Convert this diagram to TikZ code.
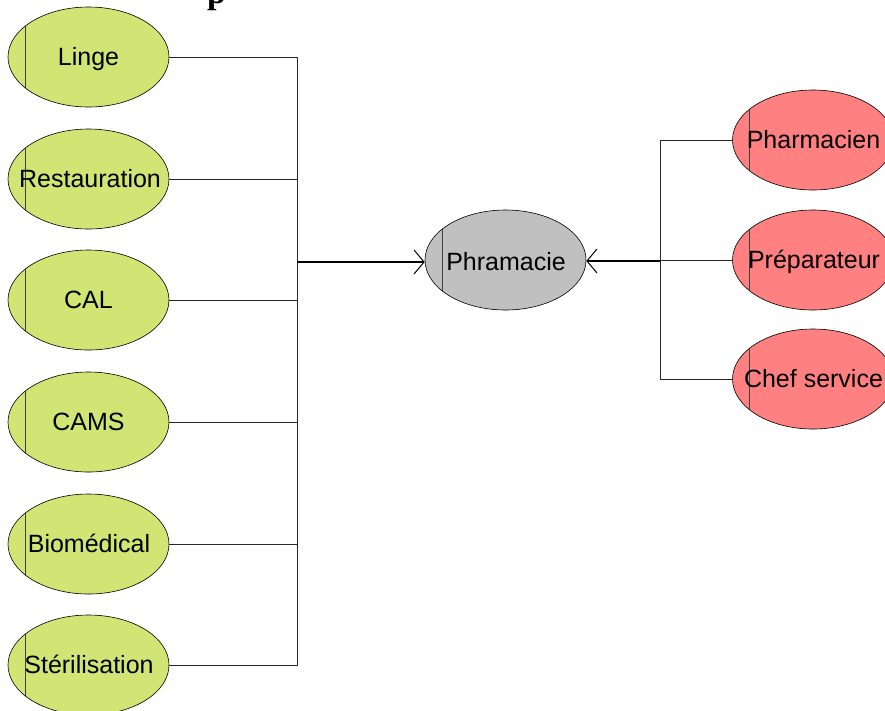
\documentclass[tikz,border=0pt]{standalone}
\usepackage{fontspec}
\setmainfont{Liberation Sans}
\newfontfamily\titlefont{Liberation Serif}
\usetikzlibrary{shapes.geometric,arrows.meta}
\definecolor{greenfill}{RGB}{210,228,115}
\definecolor{redfill}{RGB}{255,128,128}
\definecolor{greyfill}{RGB}{192,192,192}
\begin{document}
\begin{tikzpicture}[x=1pt,y=-1pt,
  oval/.style={ellipse, draw=black, line width=0.6pt, minimum width=161pt, minimum height=100pt, inner sep=0pt,
    path picture={\draw[black!75, line width=0.9pt] ([xshift=17pt]path picture bounding box.north west) -- ([xshift=17pt]path picture bounding box.south west);}},
  gov/.style={oval, fill=greenfill},
  rov/.style={oval, fill=redfill},
  pov/.style={oval, fill=greyfill},
  lbl/.style={anchor=base, inner sep=0pt, font=\fontsize{25}{30}\selectfont},
  wire/.style={line width=0.7pt, black!85},
  arr/.style={line width=1.1pt, -{Straight Barb[length=10pt,width=24pt,line width=1pt]}}
]
\useasboundingbox (0,0) rectangle (885,710);
% partial title
\node[anchor=base west, inner sep=0pt, font=\titlefont\bfseries\fontsize{34}{40}\selectfont] (title) at (207,3) {p};

% left nodes
\node[gov] (linge) at (88.5,57) {};
\node[lbl] (tlinge) at (88.5,65.5) {Linge};
\node[gov] (resto) at (88.5,179) {};
\node[lbl] (tresto) at (90,187.5) {Restauration};
\node[gov] (cal) at (88.5,300) {};
\node[lbl] (tcal) at (88.5,308.5) {CAL};
\node[gov] (cams) at (88.5,422) {};
\node[lbl] (tcams) at (88.5,430.5) {CAMS};
\node[gov] (bio) at (88.5,544) {};
\node[lbl] (tbio) at (89,552.5) {Biomédical};
\node[gov] (steri) at (88.5,665) {};
\node[lbl] (tsteri) at (89,673.5) {Stérilisation};

% center
\node[pov] (phr) at (505.5,260) {};
\node[lbl] (tphr) at (506,270) {Phramacie};

% right nodes
\node[rov] (pharm) at (813,140) {};
\node[lbl] (tpharm) at (813.5,148.5) {Pharmacien};
\node[rov] (prep) at (813,260) {};
\node[lbl] (tprep) at (814,268.5) {Préparateur};
\node[rov] (chef) at (813,379) {};
\node[lbl] (tchef) at (813.5,387.5) {Chef service};

% buses
\coordinate (busL) at (297,262);
\coordinate (busR) at (660,261);

\foreach \n in {linge,resto,cal,cams,bio,steri}
  \draw[wire] (\n.east) -| (busL);
\draw[arr] (busL) -- (phr.west |- busL);

\foreach \n in {pharm,prep,chef}
  \draw[wire] (\n.west) -| (busR);
\draw[arr] (busR) -- (phr.east |- busR);
\end{tikzpicture}
\end{document}
